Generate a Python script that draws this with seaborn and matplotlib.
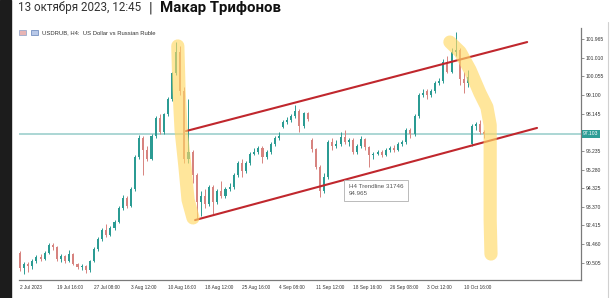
import matplotlib
matplotlib.use("Agg")
import matplotlib.pyplot as plt
import seaborn as sns
import numpy as np
import pandas as pd
from matplotlib.patches import Rectangle

# ---------------- data ----------------
opens = [91.00, 90.25, 90.45, 90.35, 90.60, 90.80, 90.70, 91.00, 91.40, 91.30,
         90.70, 90.85, 90.60, 90.95, 90.45, 90.30, 90.35, 90.15, 90.60, 91.20,
         91.70, 92.20, 91.90, 92.30, 92.60, 93.30, 93.80, 93.40, 94.30, 95.90,
         96.90, 96.30, 95.80, 97.00, 97.90, 97.20, 98.10, 98.90, 100.20, 101.30,
         99.30, 95.80, 96.20, 95.00, 93.60, 93.90, 93.50, 94.40, 93.60, 94.20,
         93.90, 94.30, 94.40, 95.00, 95.60, 95.20, 95.60, 96.10, 96.20, 96.40,
         95.90, 96.20, 96.60, 96.90, 97.45, 97.70, 97.80, 98.00, 98.30, 97.50,
         98.15, 96.80, 96.35, 95.40, 94.20, 94.90, 96.70, 96.50, 96.60, 96.95,
         96.70, 96.80, 96.20, 96.50, 96.85, 96.45, 96.00, 96.10, 96.20, 96.00,
         96.30, 96.40, 96.30, 96.60, 96.70, 97.30, 97.10, 98.00, 99.10, 99.30,
         99.10, 99.30, 99.70, 99.80, 100.80, 100.30, 101.30, 101.40, 99.90, 99.70,
         96.60, 97.50, 97.60, 97.20]
closes = [90.25, 90.45, 90.35, 90.60, 90.80, 90.70, 91.00, 91.40, 91.30, 90.70,
          90.85, 90.60, 90.95, 90.45, 90.30, 90.35, 90.15, 90.60, 91.20, 91.70,
          92.20, 91.90, 92.30, 92.60, 93.30, 93.80, 93.40, 94.30, 95.90, 96.90,
          96.30, 95.80, 97.00, 97.90, 97.20, 98.10, 98.90, 100.20, 101.30, 99.30,
          95.80, 96.20, 95.00, 93.60, 93.90, 93.50, 94.40, 93.60, 94.20, 93.90,
          94.30, 94.40, 95.00, 95.60, 95.20, 95.60, 96.10, 96.20, 96.40, 95.90,
          96.20, 96.60, 96.90, 97.00, 97.70, 97.80, 98.00, 98.30, 97.50, 98.15,
          97.85, 96.35, 95.40, 94.20, 94.90, 96.70, 96.50, 96.60, 96.95, 96.70,
          96.80, 96.20, 96.50, 96.85, 96.45, 96.00, 96.10, 96.20, 96.00, 96.30,
          96.40, 96.30, 96.60, 96.70, 97.30, 97.10, 98.00, 99.10, 99.20, 99.10,
          99.30, 99.70, 99.80, 100.80, 100.30, 101.30, 101.40, 99.90, 99.70, 100.00,
          97.50, 97.60, 97.20, 97.10]
highs = [91.10, 90.55, 90.55, 90.70, 90.90, 90.95, 91.10, 91.50, 91.50, 91.35,
         90.95, 90.90, 91.15, 91.00, 90.50, 90.45, 90.40, 90.65, 91.30, 91.80,
         92.30, 92.50, 92.40, 92.70, 93.40, 94.00, 93.90, 94.40, 96.00, 97.05,
         97.00, 96.50, 97.10, 98.00, 98.10, 98.20, 99.00, 100.30, 101.80, 101.60,
         99.50, 98.90, 96.30, 95.10, 94.20, 94.30, 94.50, 94.50, 94.30, 94.70,
         94.40, 94.60, 95.10, 95.70, 95.80, 95.70, 96.20, 96.40, 96.50, 96.50,
         96.30, 96.70, 97.00, 97.20, 97.80, 97.95, 98.10, 98.60, 98.40, 98.25,
         98.25, 96.90, 96.40, 95.50, 95.10, 96.80, 96.90, 96.80, 97.20, 97.30,
         96.90, 96.90, 96.60, 97.00, 96.90, 96.50, 96.20, 96.30, 96.30, 96.40,
         96.50, 96.55, 96.70, 96.80, 97.40, 97.40, 98.10, 99.20, 99.40, 99.40,
         99.40, 99.80, 99.95, 100.95, 101.10, 101.50, 102.30, 101.50, 100.30, 100.40,
         97.60, 97.70, 97.80, 97.30]
lows = [90.10, 89.95, 90.05, 90.20, 90.50, 90.60, 90.65, 90.95, 91.15, 90.60,
        90.55, 90.50, 90.55, 90.40, 90.20, 90.15, 90.00, 90.05, 90.55, 91.10,
        91.60, 91.80, 91.85, 92.20, 92.55, 93.20, 93.30, 93.35, 94.20, 95.80,
        95.00, 95.70, 95.75, 96.90, 97.10, 97.10, 98.00, 98.80, 100.10, 99.10,
        95.60, 95.60, 94.60, 92.80, 92.90, 93.30, 93.40, 93.00, 93.50, 93.80,
        93.80, 94.20, 94.30, 94.90, 94.90, 95.10, 95.50, 96.00, 96.10, 95.60,
        95.80, 96.10, 96.50, 96.80, 97.40, 97.60, 97.70, 97.90, 97.20, 97.40,
        97.75, 96.20, 95.30, 93.85, 94.10, 94.80, 96.30, 96.40, 96.50, 96.60,
        96.50, 96.10, 96.10, 96.40, 96.30, 95.40, 95.80, 96.00, 95.90, 95.95,
        96.20, 96.20, 96.25, 96.50, 96.60, 96.90, 97.00, 97.90, 99.00, 98.90,
        99.00, 99.20, 99.60, 99.70, 100.20, 100.20, 101.10, 99.60, 99.20, 99.50,
        96.50, 97.30, 97.10, 96.90]

x_tick_labels = ['2 Jul 2023', '19 Jul 16:00', '27 Jul 08:00', '3 Aug 12:00',
                 '10 Aug 16:00', '18 Aug 12:00', '25 Aug 16:00', '4 Sep 08:00',
                 '11 Sep 12:00', '18 Sep 16:00', '26 Sep 08:00', '3 Oct 12:00',
                 '10 Oct 16:00']
y_tick_values = [101.965, 101.010, 100.055, 99.100, 98.145, 96.235,
                 95.280, 94.325, 93.370, 92.415, 91.460, 90.505]
current_price = 97.103

# drawn objects (bar index, price)
upper_trend_x = [40.4, 123.4]
upper_trend_y = [97.25, 101.81]
lower_trend_x = [42.6, 125.8]
lower_trend_y = [92.69, 97.41]
hl_left_x = [38.4, 38.7, 39.2, 40.1, 40.9, 42.1]
hl_left_y = [101.61, 99.35, 97.30, 95.51, 93.72, 92.80]
hl_right_x = [104.6, 107.1, 109.5, 111.9, 113.6, 114.4, 114.4, 114.4, 114.6]
hl_right_y = [101.81, 101.30, 100.38, 99.20, 98.48, 97.56, 95.77, 92.69, 90.95]

# ---------------- styling ----------------
sns.set_style("white")
plt.rcParams['font.family'] = ['Liberation Sans', 'DejaVu Sans']

W, H = 613, 298
fig = plt.figure(figsize=(W / 100, H / 100), dpi=100)
fig.patch.set_facecolor('white')

def fx(x):
    return x / W

def fy(y):
    return 1 - y / H

ax = fig.add_axes([fx(19), 18 / H, (581 - 19) / W, (280 - 28) / H])
ax.set_facecolor('white')

df = pd.DataFrame({'o': opens, 'c': closes, 'h': highs, 'l': lows})
df['i'] = np.arange(len(df))
up_col, dn_col = '#2b9b93', '#d7837f'
cols = [up_col if c >= o else dn_col for o, c in zip(df.o, df.c)]
bottoms = np.minimum(df.o, df.c)
heights = np.maximum(np.abs(df.c - df.o), 0.04)

ax.axhline(current_price, color='#a5d3d1', lw=1.3, zorder=1)
ax.vlines(df.i, df.l, df.h, colors=cols, lw=0.7, zorder=2)
ax.bar(df.i, heights, bottom=bottoms, width=0.5, color=cols, lw=0, zorder=3)

tl = '#c0272d'
sns.lineplot(x=upper_trend_x, y=upper_trend_y, ax=ax, color=tl, lw=1.5,
             sort=False, estimator=None, zorder=4)
sns.lineplot(x=lower_trend_x, y=lower_trend_y, ax=ax, color=tl, lw=1.5,
             sort=False, estimator=None, zorder=4)

hl = '#ffd966'
for hx, hy in [(hl_left_x, hl_left_y), (hl_right_x, hl_right_y)]:
    sns.lineplot(x=hx, y=hy, ax=ax, color=hl, lw=9.5, alpha=0.65, sort=False,
                 estimator=None, zorder=5, solid_capstyle='round',
                 solid_joinstyle='round')

# trendline tooltip
ax.text(80.0, 94.22, 'H4 Trendline 31746\n94.965', fontsize=4.5, color='#555555',
        va='center', ha='left', linespacing=1.6, zorder=6,
        bbox=dict(boxstyle='square,pad=0.7', fc='white', ec='#b0b0b0', lw=0.6))

ax.set_xlim(-0.24, 136.5)
ax.set_ylim(89.62, 102.53)

ax.set_xticks(np.arange(len(x_tick_labels)) * 9)
ax.set_xticklabels(x_tick_labels, ha='left', fontsize=3.4, color='#333333')
ax.yaxis.tick_right()
ax.set_yticks(y_tick_values)
ax.set_yticklabels([f'{v:.3f}' for v in y_tick_values], fontsize=3.6,
                   color='#333333')
ax.tick_params(axis='x', direction='out', length=2.5, width=0.5, pad=1.0,
               color='#666666')
ax.tick_params(axis='y', direction='out', length=2.0, width=0.5, pad=1.2,
               color='#666666')

for s in ['left', 'top']:
    ax.spines[s].set_visible(False)
for s in ['right', 'bottom']:
    ax.spines[s].set_color('#7a7a7a')
    ax.spines[s].set_linewidth(0.9)

ax.annotate(f'{current_price:.3f}', xy=(1.0, current_price),
            xycoords=('axes fraction', 'data'), xytext=(1.6, 0),
            textcoords='offset points', ha='left', va='center', fontsize=3.6,
            color='white', annotation_clip=False, zorder=10,
            bbox=dict(boxstyle='square,pad=0.25', fc='#2e9e96', ec='none'))

# frame decorations
fig.patches.append(Rectangle((0, 0), fx(11), 1, transform=fig.transFigure,
                             color='#1c1c1c', zorder=0))
fig.lines.append(plt.Line2D([fx(608), fx(608)], [0, fy(22)],
                            transform=fig.transFigure, color='#d0d0d0', lw=0.8))

# header
fig.text(fx(18), fy(8), '13 октября 2023, 12:45', fontsize=8.4, color='#333333',
         va='center', ha='left', family=['Roboto', 'DejaVu Sans'])
fig.text(fx(149), fy(8), '|', fontsize=11, color='#333333', va='center',
         ha='left', family=['Roboto', 'DejaVu Sans'])
fig.text(fx(160), fy(8), 'Макар Трифонов', fontsize=10.8, color='#111111',
         fontweight='bold', va='center', ha='left',
         family=['Roboto', 'DejaVu Sans'])

# chart legend line
fig.patches.append(Rectangle((fx(19), fy(35)), fx(7), 5 / H,
                             transform=fig.transFigure, fc='#e8b4b4',
                             ec='#8aa0c8', lw=0.5))
fig.patches.append(Rectangle((fx(31), fy(35)), fx(7), 5 / H,
                             transform=fig.transFigure, fc='#b8c8e8',
                             ec='#6080b8', lw=0.5))
fig.text(fx(42), fy(32.5), 'USDRUB, H4:  US Dollar vs Russian Ruble',
         fontsize=4.2, color='#333333', va='center', ha='left')

fig.savefig('out.png', dpi=100, facecolor='white')
